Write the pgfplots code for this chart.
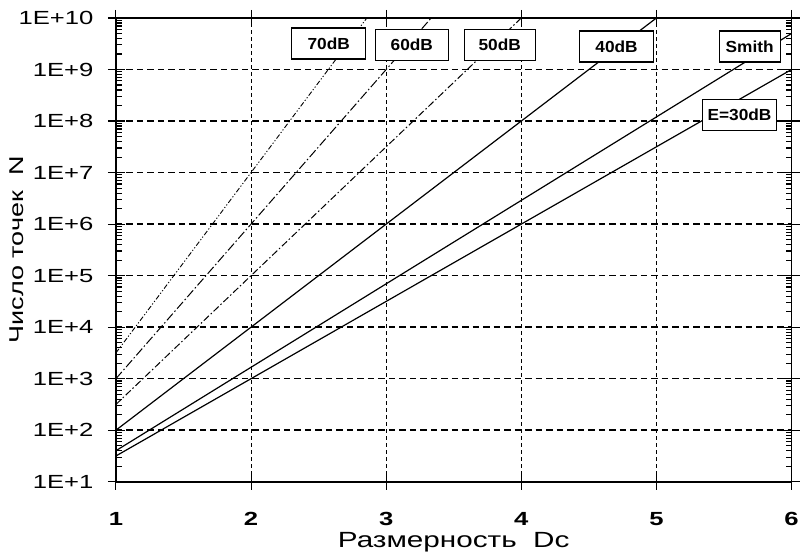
\documentclass[border=0pt]{standalone}
\usepackage{pgfplots}
\pgfplotsset{compat=1.18}
\usepackage{fontspec}
\setmainfont{Liberation Sans}[FakeStretch=1.35]
\newfontfamily\boxfont{Liberation Sans}[FakeStretch=1.08]
\begin{document}
\begin{tikzpicture}
\begin{axis}[
  scale only axis, width=676pt, height=464pt,
  at={(0,0)}, anchor=south west,
  xmin=1, xmax=6, ymode=log, ymin=1e1, ymax=1e10,
  xtick={1,2,3,4,5,6},
  ytick={1e1,1e2,1e3,1e4,1e5,1e6,1e7,1e8,1e9,1e10},
  yticklabels={1E+1,1E+2,1E+3,1E+4,1E+5,1E+6,1E+7,1E+8,1E+9,1E+10},
  xticklabels={\bfseries 1,\bfseries 2,\bfseries 3,\bfseries 4,\bfseries 5,\bfseries 6},
  /pgf/number format/assume math mode=true,
  tick label style={font=\fontsize{19}{23}\selectfont},
  xticklabel style={yshift=-27pt},
  yticklabel style={xshift=-19pt},
  tick align=inside,
  major tick length=9pt, minor tick length=6pt,
  tick style={black, line width=1.1pt},
  axis line style={line width=1.6pt},
  extra y ticks={1e1,1e2,1e3,1e4,1e5,1e6,1e7,1e8,1e9,1e10},
  extra y tick labels={},
  extra y tick style={tick align=outside, grid=none, major tick length=8pt},
  extra x ticks={1,2,3,4,5,6},
  extra x tick labels={},
  extra x tick style={tick align=outside, grid=none, major tick length=8pt},
  xmajorgrids, ymajorgrids,
  x grid style={black, line width=0.9pt, dash pattern=on 4pt off 3pt},
  y grid style={black, line width=1.6pt, dash pattern=on 6.5pt off 4pt},
  xlabel={Размерность\ \ Dc},
  ylabel={Число точек\ \ N},
  xlabel style={font=\fontsize{22}{26}\selectfont, at={(axis description cs:0.5,-0.13)}, anchor=center},
  ylabel style={font=\fontsize{20}{24}\selectfont, at={(axis description cs:-0.147,0.5)}, anchor=center},
  clip=true,
]
% E=30dB
\addplot[black, line width=1.2pt] coordinates {(1,31.6) (6,1e9)};
% Smith
\addplot[black, line width=1.2pt] coordinates {(1,40) (6,5.0e9)};
% 40dB
\addplot[black, line width=1.2pt] coordinates {(1,100) (5,1e10)};
% 50dB
\addplot[black, line width=1pt, dash pattern=on 7pt off 2.5pt on 1.5pt off 2.5pt] coordinates {(1,316) (4,1e10)};
% 60dB
\addplot[black, line width=1pt, dash pattern=on 9pt off 2.5pt on 1.5pt off 2.5pt] coordinates {(1,1000) (3.3333,1e10)};
% 70dB
\addplot[black, line width=0.9pt, dash pattern=on 5pt off 2pt on 1.2pt off 2pt on 1.2pt off 2pt] coordinates {(1,3162) (2.857,1e10)};

\tikzset{lab/.style={draw=black, line width=1.1pt, fill=white, minimum height=31pt, inner sep=0pt, font=\boxfont\fontsize{16}{18}\selectfont\bfseries}}
\node[lab, minimum width=74pt] at (axis cs:2.575,3.2e9) {70dB};
\node[lab, minimum width=73pt] at (axis cs:3.19,3.0e9) {60dB};
\node[lab, minimum width=71pt] at (axis cs:3.84,3.0e9) {50dB};
\node[lab, minimum width=74pt] at (axis cs:4.705,2.8e9) {40dB};
\node[lab, minimum width=61pt] at (axis cs:5.69,2.8e9) {Smith};
\node[lab, minimum width=74pt] at (axis cs:5.615,1.3e8) {E=30dB};
\end{axis}
\path (-116pt,-72pt) rectangle (686pt,482pt);
\end{tikzpicture}
\end{document}
